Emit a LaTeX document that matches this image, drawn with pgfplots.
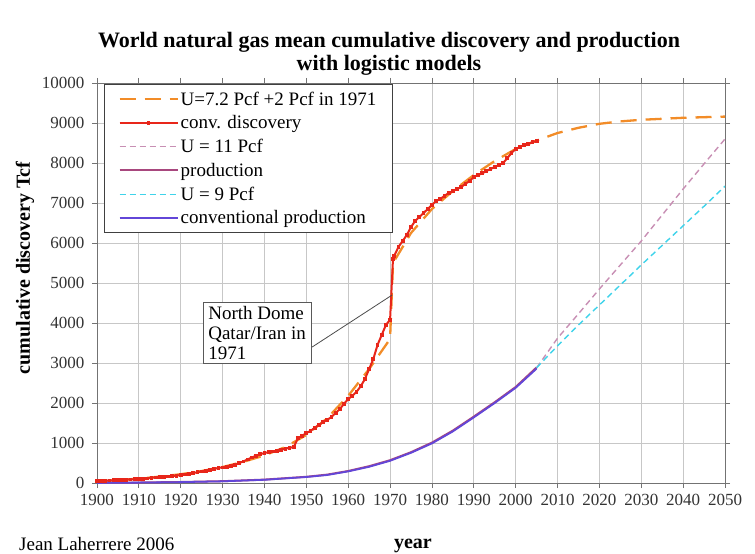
\documentclass[border=0pt]{standalone}
\usepackage{pgfplots}
\pgfplotsset{compat=1.18}
\usepackage{fontspec}
\setmainfont{Liberation Serif}

\definecolor{modelorange}{HTML}{F28C28}
\definecolor{discred}{HTML}{E8261A}
\definecolor{mauvedash}{HTML}{C88FB4}
\definecolor{prodmauve}{HTML}{A8477E}
\definecolor{cyandash}{HTML}{3FD3EA}
\definecolor{convprod}{HTML}{6246D8}

\begin{document}
\begin{tikzpicture}
\useasboundingbox (-97pt,-71pt) rectangle (658pt,483pt);
\begin{axis}[
  scale only axis,
  width=628pt, height=400pt,
  xmin=1900, xmax=2050, ymin=0, ymax=10000,
  xtick distance=10, ytick distance=1000,
  scaled y ticks=false,
  grid=major,
  major grid style={draw=black!22, line width=0.8pt},
  axis line style={draw=black!55, line width=0.8pt},
  tick style={draw=black!55, line width=0.8pt},
  tick align=outside, major tick length=5pt,
  /pgf/number format/assume math mode=true,
  /pgf/number format/1000 sep={},
  ticklabel style={font=\fontsize{17}{18}\selectfont, text=black!80},
  xticklabel style={yshift=-3pt},
  yticklabel style={xshift=-4pt},
  title={World natural gas mean cumulative discovery and production\\with logistic models},
  title style={at={(axis description cs:0.465,1)}, anchor=south, yshift=1pt, inner sep=0pt,
    align=center, font=\fontsize{22}{23}\selectfont\bfseries},
  xlabel={year},
  xlabel style={at={(axis description cs:0.503,-0.1625)}, anchor=base, inner sep=0pt,
    font=\fontsize{20}{22}\selectfont\bfseries},
  ylabel={cumulative discovery Tcf},
  ylabel style={at={(axis description cs:-0.1146,0.5375)}, anchor=center, rotate=0,
    font=\fontsize{20}{22}\selectfont\bfseries},
  legend style={at={(axis description cs:0.0111,0.997)}, anchor=north west,
    draw=black!75, line width=0.9pt, fill=white,
    font=\fontsize{19}{21}\selectfont, inner xsep=14pt, inner ysep=5pt,
    nodes={inner xsep=2pt, inner ysep=2pt},
    row sep=5pt, cells={anchor=west}},
  legend image code/.code={%
    \draw[mark repeat=2,mark phase=2,#1] plot coordinates {(0pt,0pt) (29pt,0pt) (58pt,0pt)};},
]

% logistic model U = 7.2 Pcf, plus 2 Pcf added in 1971
\addplot[color=modelorange, draw=modelorange, line width=2.3pt, dash pattern=on 16pt off 9pt] coordinates {
(1900,40) (1905,70) (1910,110) (1915,160) (1920,220) (1925,300) (1930,400)
(1935,530) (1940,690) (1945,900) (1950,1200) (1955,1620) (1960,2180)
(1965,2850) (1970,3600) (1970.7,5500) (1973,5900) (1975,6250) (1980,6850)
(1985,7300) (1990,7700) (1995,8050) (2000,8350) (2005,8560) (2010,8750)
(2015,8880) (2020,8980) (2025,9040) (2030,9080) (2040,9130) (2050,9160)};
\addlegendentry{U=7.2 Pcf +2 Pcf in 1971}

% mean cumulative conventional discovery
\addplot[color=discred, draw=discred, line width=2pt, mark=square*, mark size=0.9pt] coordinates {
(1900,50) (1901,55) (1902,60) (1903,62) (1904,70) (1905,75) (1906,80) (1907,85)
(1908,90) (1909,95) (1910,100) (1911,110) (1912,115) (1913,130) (1914,140)
(1915,145) (1916,150) (1917,165) (1918,175) (1919,185) (1920,200) (1921,215)
(1922,230) (1923,250) (1924,270) (1925,290) (1926,310) (1927,330) (1928,350)
(1929,380) (1930,390) (1931,410) (1932,430) (1933,450) (1934,500) (1935,540)
(1936,590) (1937,640) (1938,680) (1939,720) (1940,750) (1941,770) (1942,790)
(1943,810) (1944,830) (1945,860) (1946,880) (1947,900) (1948,1120) (1949,1180)
(1950,1250) (1951,1300) (1952,1380) (1953,1450) (1954,1520) (1955,1580)
(1956,1650) (1957,1750) (1958,1850) (1959,1980) (1960,2100) (1961,2180)
(1962,2280) (1963,2420) (1964,2600) (1965,2850) (1966,3100) (1967,3450)
(1968,3700) (1969,3950) (1970,4080) (1970.7,5600) (1971,5680) (1972,5900)
(1973,6050) (1974,6200) (1975,6400) (1976,6550) (1977,6650) (1978,6750)
(1979,6850) (1980,6950) (1981,7050) (1982,7100) (1983,7180) (1984,7250)
(1985,7300) (1986,7350) (1987,7400) (1988,7480) (1989,7550) (1990,7650)
(1991,7700) (1992,7740) (1993,7800) (1994,7850) (1995,7900) (1996,7950)
(1997,8000) (1998,8120) (1999,8250) (2000,8350) (2001,8400) (2002,8450)
(2003,8480) (2004,8520) (2005,8550)};
\addlegendentry{conv. discovery}

% logistic production model U = 11 Pcf
\addplot[color=mauvedash, draw=mauvedash, line width=1.4pt, dash pattern=on 6pt off 4pt] coordinates {
(2005,2880) (2010,3620) (2015,4230) (2020,4850) (2025,5450) (2030,6050)
(2035,6700) (2040,7350) (2045,7980) (2050,8600)};
\addlegendentry{U = 11 Pcf}

% cumulative production
\addplot[color=prodmauve, draw=prodmauve, line width=2pt] coordinates {
(1900,5) (1910,12) (1920,25) (1930,45) (1940,85) (1950,155) (1955,210)
(1960,300) (1965,420) (1970,570) (1975,770) (1980,1010) (1985,1310)
(1990,1660) (1995,2020) (2000,2400) (2005,2890)};
\addlegendentry{production}

% logistic production model U = 9 Pcf
\addplot[color=cyandash, draw=cyandash, line width=1.4pt, dash pattern=on 6pt off 4pt] coordinates {
(2005,2880) (2010,3430) (2015,3950) (2020,4450) (2025,4950) (2030,5450)
(2035,5940) (2040,6430) (2045,6920) (2050,7420)};
\addlegendentry{U = 9 Pcf}

% cumulative conventional production
\addplot[color=convprod, draw=convprod, line width=1.8pt] coordinates {
(1900,3) (1910,10) (1920,22) (1930,42) (1940,80) (1950,150) (1955,200)
(1960,290) (1965,405) (1970,555) (1975,755) (1980,990) (1985,1290)
(1990,1640) (1995,2000) (2000,2380) (2005,2860)};
\addlegendentry{conventional production}

\node[draw=black!65, line width=0.8pt, fill=white, anchor=north west, align=left,
  inner xsep=5pt, inner ysep=4pt, font=\fontsize{19}{20}\selectfont]
  (nd) at (axis cs:1925.3,4525) {North Dome\\Qatar/Iran in\\1971};
\draw[black!70, line width=0.8pt] (axis cs:1951.4,3400) -- (axis cs:1970.5,4700);
\end{axis}
\node[anchor=base west, inner sep=0pt, font=\fontsize{19}{20}\selectfont]
  at (-78pt,-67pt) {Jean Laherrere 2006};
\end{tikzpicture}
\end{document}
